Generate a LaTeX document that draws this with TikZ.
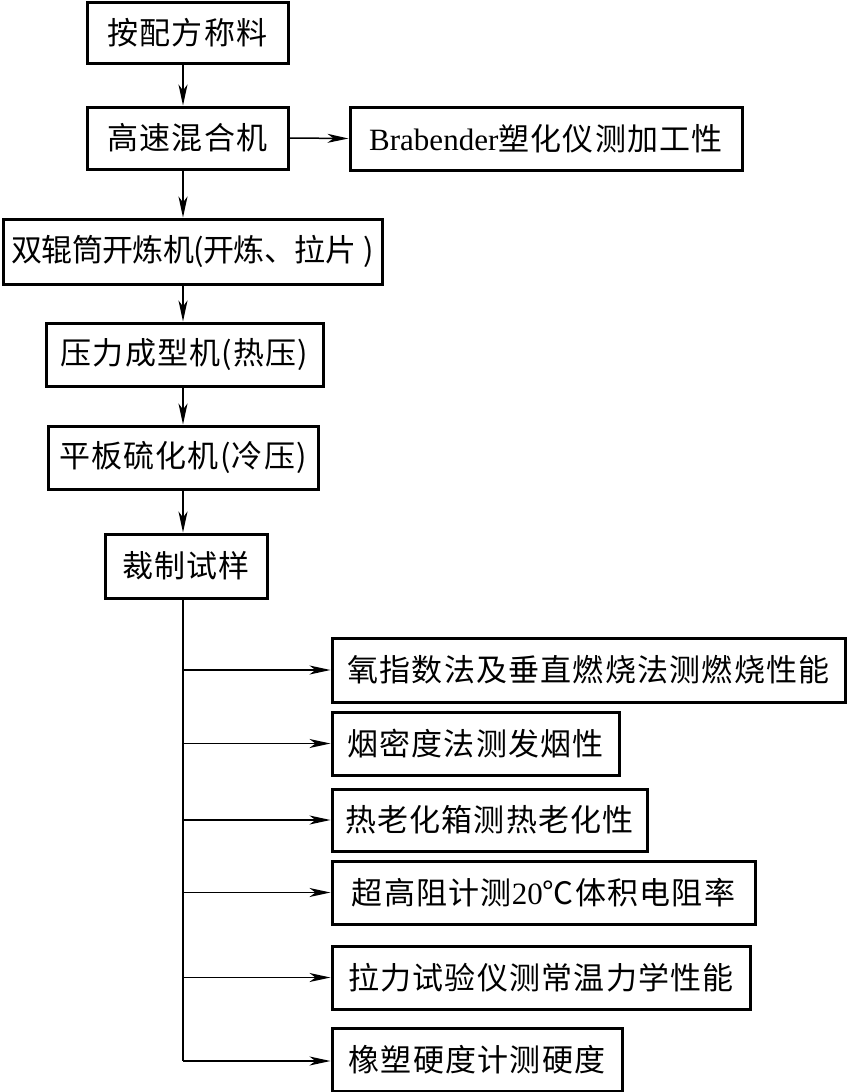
\documentclass[tikz,border=0pt]{standalone}
\usepackage{fontspec}
\setmainfont{Liberation Serif}
\newfontfamily\cjk[LetterSpace=4]{Noto Sans CJK SC}
\newfontfamily\cjkt[LetterSpace=-2]{Noto Sans CJK SC}
\usetikzlibrary{arrows.meta}
\begin{document}
\begin{tikzpicture}[x=1pt,y=-1pt,
  box/.style={draw=black,line width=3pt,rectangle,inner sep=0pt,
    font=\fontsize{31}{36}\selectfont\cjk},
  conn/.style={line width=1.5pt,-{Stealth[length=21pt,width=9pt,inset=6pt]}},
  trunkline/.style={line width=1.5pt}]
\useasboundingbox (0,0) rectangle (847,1092);
\fill[white] (0,0) rectangle (847,1092);
\coordinate (tx) at (183,0);
\node[box,minimum width=201pt,minimum height=61pt] (b1) at (187.5,32.5) {按配方称料};
\node[box,minimum width=201pt,minimum height=62pt] (b2) at (187.5,138) {高速混合机};
\node[box,minimum width=392pt,minimum height=63pt] (bra) at (546,138.5) {{\rmfamily Brabender}塑化仪测加工性};
\node[box,minimum width=379pt,minimum height=65pt,font=\fontsize{31}{36}\selectfont\cjkt] (b4) at (192.5,251.5) {双辊筒开炼机(开炼、拉片\hspace{7pt})};
\node[box,minimum width=277pt,minimum height=63pt] (b5) at (184.5,354.5) {压力成型机(热压)};
\node[box,minimum width=270pt,minimum height=63pt] (b6) at (183,457.5) {平板硫化机(冷压)};
\node[box,minimum width=162pt,minimum height=64pt] (b7) at (186,566) {裁制试样};
\node[box,minimum width=513pt,minimum height=64pt] (r1) at (588.5,670) {氧指数法及垂直燃烧法测燃烧性能};
\node[box,minimum width=287pt,minimum height=63pt] (r2) at (475.5,743.5) {烟密度法测发烟性};
\node[box,minimum width=315pt,minimum height=62pt] (r3) at (489.5,820) {热老化箱测热老化性};
\node[box,minimum width=423pt,minimum height=63pt] (r4) at (543.5,892.5) {超高阻计测{\rmfamily 20}℃体积电阻率};
\node[box,minimum width=418pt,minimum height=63pt] (r5) at (541,977.5) {拉力试验仪测常温力学性能};
\node[box,minimum width=290pt,minimum height=63pt] (r6) at (477,1059.5) {橡塑硬度计测硬度};
\draw[conn] (b1.south -| tx) -- (b2.north -| tx);
\draw[conn] (b2.east) -- (bra.west);
\draw[conn] (b2.south -| tx) -- (b4.north -| tx);
\draw[conn] (b4.south -| tx) -- (b5.north -| tx);
\draw[conn] (b5.south -| tx) -- (b6.north -| tx);
\draw[conn] (b6.south -| tx) -- (b7.north -| tx);
\coordinate (tend) at (183,1061);
\draw[trunkline] (b7.south -| tx) -- (tend);
\draw[conn] (r1.west -| tx) -- (r1.west);
\draw[conn] (r2.west -| tx) -- (r2.west);
\draw[conn] (r3.west -| tx) -- (r3.west);
\draw[conn] (r4.west -| tx) -- (r4.west);
\draw[conn] (r5.west -| tx) -- (r5.west);
\draw[conn] (tend) -- (tend -| r6.west);
\end{tikzpicture}
\end{document}
